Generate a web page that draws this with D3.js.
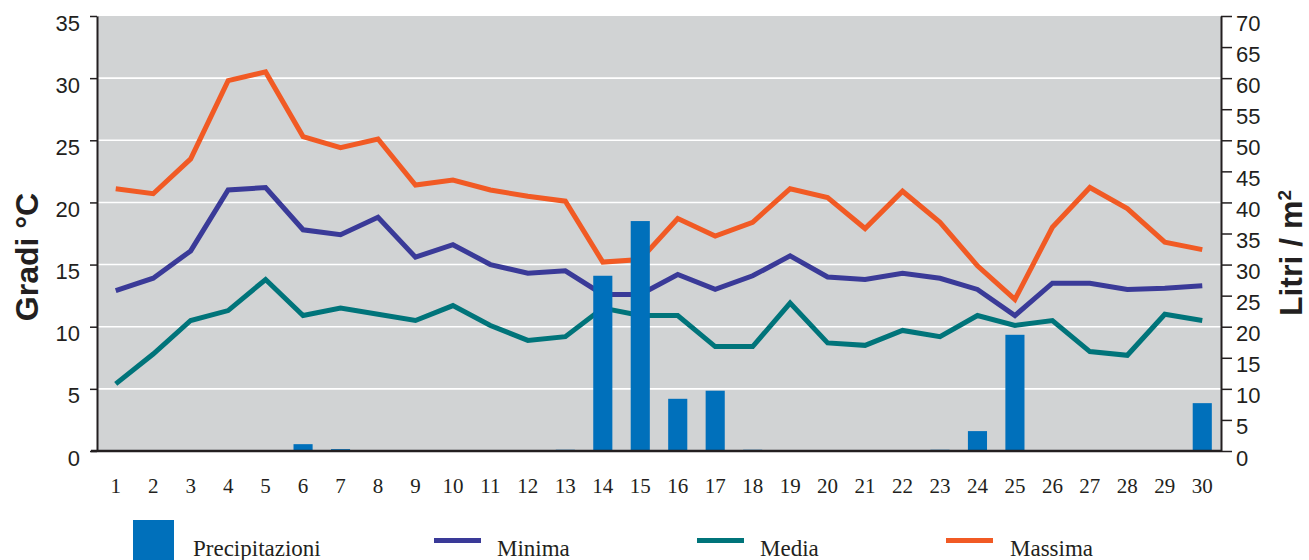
<!DOCTYPE html>
<html>
<head>
<meta charset="utf-8">
<script src="https://cdn.jsdelivr.net/npm/d3@7"></script>
<style>
  html, body { margin: 0; padding: 0; background: #ffffff; }
  svg { display: block; }
</style>
</head>
<body>
<svg id="chart" width="1309" height="560"></svg>
<script>
const days = d3.range(1, 31).map(String);
const massima = [21.1, 20.7, 23.5, 29.8, 30.5, 25.3, 24.4, 25.1, 21.4, 21.8, 21.0, 20.5, 20.1, 15.2, 15.4, 18.7, 17.3, 18.4, 21.1, 20.4, 17.9, 20.9, 18.4, 14.9, 12.2, 18.0, 21.2, 19.5, 16.8, 16.2];
const minima  = [12.9, 13.9, 16.1, 21.0, 21.2, 17.8, 17.4, 18.8, 15.6, 16.6, 15.0, 14.3, 14.5, 12.6, 12.6, 14.2, 13.0, 14.1, 15.7, 14.0, 13.8, 14.3, 13.9, 13.0, 10.9, 13.5, 13.5, 13.0, 13.1, 13.3];
const media   = [5.4, 7.8, 10.5, 11.3, 13.8, 10.9, 11.5, 11.0, 10.5, 11.7, 10.1, 8.9, 9.2, 11.5, 10.9, 10.9, 8.4, 8.4, 11.9, 8.7, 8.5, 9.7, 9.2, 10.9, 10.1, 10.5, 8.0, 7.7, 11.0, 10.5];
const precipitazioni = [0, 0, 0, 0, 0, 1.1, 0.3, 0, 0, 0, 0, 0, 0.2, 28.2, 37.0, 8.4, 9.7, 0.2, 0, 0, 0, 0, 0.2, 3.2, 18.7, 0, 0, 0, 0, 7.7];
const tempTicks = [0, 5, 10, 15, 20, 25, 30, 35];
const precTicks = [0, 5, 10, 15, 20, 25, 30, 35, 40, 45, 50, 55, 60, 65, 70];
const gridTicks = [5, 10, 15, 20, 25, 30];

const C = {
  bg: "#d1d3d4", axis: "#231f20", massima: "#f15a24", minima: "#3a3a98",
  media: "#00747a", prec: "#0070bb", text: "#231f20"
};
const L = 97, R = 1221, T = 16, B = 451;

const svg = d3.select("#chart");

const x = d3.scaleBand().domain(days).range([L, R]).paddingInner(0.49).paddingOuter(0.245);
const yT = d3.scaleLinear().domain([0, 35]).range([B, T]);
const yP = d3.scaleLinear().domain([0, 70]).range([B, T]);
const cx = d => x(d) + x.bandwidth() / 2;

// background
svg.append("rect").attr("x", L).attr("y", T).attr("width", R - L).attr("height", B - T).attr("fill", C.bg);

// grid
svg.append("g").selectAll("line").data(gridTicks).join("line")
  .attr("x1", L).attr("x2", R).attr("y1", d => yT(d)).attr("y2", d => yT(d))
  .attr("stroke", "#ffffff").attr("stroke-width", 1.6);

// lines
const series = [
  { key: "Massima", values: massima, color: C.massima },
  { key: "Minima", values: minima, color: C.minima },
  { key: "Media", values: media, color: C.media }
];
const lineGen = d3.line().x((v, i) => cx(days[i])).y(v => yT(v));
svg.append("g").selectAll("path").data(series).join("path")
  .attr("d", s => lineGen(s.values))
  .attr("fill", "none").attr("stroke", s => s.color)
  .attr("stroke-width", 5).attr("stroke-linejoin", "miter").attr("stroke-linecap", "butt");

// bars
svg.append("g").selectAll("rect").data(precipitazioni).join("rect")
  .attr("x", (v, i) => x(days[i]))
  .attr("width", x.bandwidth())
  .attr("y", v => yP(v))
  .attr("height", v => B - yP(v))
  .attr("fill", C.prec);

// left axis
const axL = svg.append("g").attr("transform", `translate(${L},0)`)
  .call(d3.axisLeft(yT).tickValues(tempTicks).tickSize(7).tickPadding(10).tickSizeOuter(0));
axL.select(".domain").attr("stroke", C.axis).attr("stroke-width", 2);
axL.selectAll(".tick line").attr("stroke", C.axis).attr("stroke-width", 1.5);
axL.selectAll(".tick text").attr("y", 7).attr("fill", C.text)
  .style("font-family", "'Liberation Sans', Arial, sans-serif").style("font-size", "22px");

// right axis
const axR = svg.append("g").attr("transform", `translate(${R},0)`)
  .call(d3.axisRight(yP).tickValues(precTicks).tickSize(11).tickPadding(4).tickSizeOuter(0));
axR.select(".domain").attr("stroke", C.axis).attr("stroke-width", 2);
axR.selectAll(".tick line").attr("stroke", C.axis).attr("stroke-width", 1.5);
axR.selectAll(".tick text").attr("y", 7).attr("fill", C.text)
  .style("font-family", "'Liberation Sans', Arial, sans-serif").style("font-size", "22px");

// bottom axis
const axB = svg.append("g").attr("transform", `translate(0,${B})`)
  .call(d3.axisBottom(x).tickSize(0).tickPadding(27));
axB.select(".domain").remove();
axB.selectAll(".tick text").attr("fill", C.text)
  .style("font-family", "'Liberation Serif', 'Times New Roman', serif").style("font-size", "21px");
svg.append("line").attr("x1", L - 6).attr("x2", R).attr("y1", B).attr("y2", B)
  .attr("stroke", C.axis).attr("stroke-width", 2.5);

// axis titles
svg.append("text").attr("transform", "translate(38,257) rotate(-90)")
  .attr("text-anchor", "middle").attr("fill", C.text)
  .style("font-family", "'Liberation Sans', Arial, sans-serif").style("font-size", "32px").style("font-weight", "bold")
  .text("Gradi °C");
const rt = svg.append("text").attr("transform", "translate(1302,253) rotate(-90)")
  .attr("text-anchor", "middle").attr("fill", C.text)
  .style("font-family", "'Liberation Sans', Arial, sans-serif").style("font-size", "32px").style("font-weight", "bold");
rt.append("tspan").text("Litri / m");
rt.append("tspan").attr("dy", "-0.6em").style("font-size", "19px").text("2");

// legend
const legendItems = [
  { label: "Precipitazioni", type: "rect", color: C.prec, sx: 133, tx: 193 },
  { label: "Minima", type: "line", color: C.minima, sx: 434, tx: 497 },
  { label: "Media", type: "line", color: C.media, sx: 697, tx: 760 },
  { label: "Massima", type: "line", color: C.massima, sx: 946, tx: 1010 }
];
const lg = svg.append("g");
legendItems.forEach(it => {
  if (it.type === "rect") {
    lg.append("rect").attr("x", it.sx).attr("y", 520).attr("width", 41).attr("height", 41).attr("fill", it.color);
  } else {
    lg.append("line").attr("x1", it.sx).attr("x2", it.sx + 47).attr("y1", 540.5).attr("y2", 540.5)
      .attr("stroke", it.color).attr("stroke-width", 5);
  }
  lg.append("text").attr("x", it.tx).attr("y", 556).attr("fill", C.text)
    .style("font-family", "'Liberation Serif', 'Times New Roman', serif").style("font-size", "23px")
    .text(it.label);
});
</script>
</body>
</html>
